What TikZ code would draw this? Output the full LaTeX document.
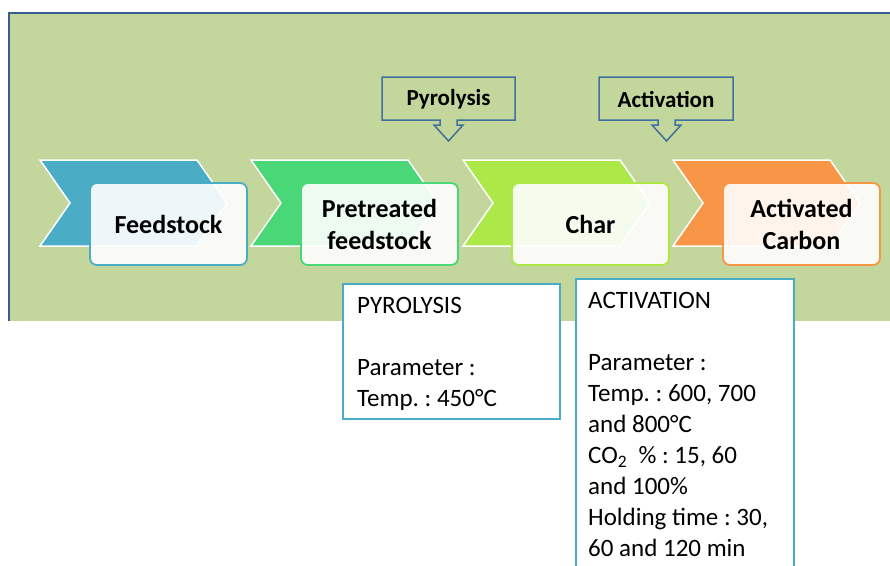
\documentclass[tikz,border=0pt]{standalone}
\usepackage{fontspec}
\setmainfont{Carlito}
\frenchspacing
\definecolor{bggreen}{RGB}{195,214,155}
\definecolor{frameblue}{RGB}{56,93,138}
\definecolor{cA}{RGB}{75,172,198}
\definecolor{cB}{RGB}{74,215,120}
\definecolor{cC}{RGB}{172,232,72}
\definecolor{cD}{RGB}{247,150,70}
\definecolor{callblue}{RGB}{65,113,156}
\definecolor{infoblue}{RGB}{75,172,198}
\begin{document}
\begin{tikzpicture}[x=1pt,y=-1pt,
  chev/.style={fill=#1, draw=white, line width=1.5pt, line join=miter},
  stagebox/.style={draw=#1, line width=1.8pt, fill=white, fill opacity=0.9, text opacity=1,
    rounded corners=7pt, minimum width=157pt, minimum height=82pt, inner sep=0pt,
    font=\bfseries\fontsize{26}{32}\selectfont, align=center},
  callout/.style={draw=callblue, line width=1.5pt, line join=miter},
  calltext/.style={font=\bfseries\fontsize{23}{28}\selectfont, inner sep=0pt},
  infobox/.style={draw=infoblue, line width=1.8pt, fill=white},
  infotext/.style={font=\fontsize{25}{31}\selectfont, align=left, inner sep=0pt, anchor=north west}
]
\useasboundingbox (0,0) rectangle (890,565);
\clip (0,0) rectangle (890,565);
% background
\fill[bggreen] (9,13) rectangle (895,321);
\draw[frameblue, line width=1.8pt] (9,321) -- (9,13) -- (895,13);
% chevrons
\foreach \xx/\cc in {40/cA,251/cB,463/cC,673/cD}{
  \path[chev=\cc] (\xx,160) -- ++(157,0) -- ++(30,43) -- ++(-30,43) -- ++(-157,0) -- ++(30,-43) -- cycle;
}
% stage boxes
\node[stagebox=cA] (feed) at (168.5,224) {Feedstock};
\node[stagebox=cB] (pre) at (379.5,224) {Pretreated\\feedstock};
\node[stagebox=cC] (char) at (590.5,224) {Char};
\node[stagebox=cD] (ac) at (801.5,224) {Activated\\Carbon};
% callouts
\draw[callout] (382,77) -- (515,77) -- (515,120) -- (457,120) -- (457,125) -- (463,125)
  -- (448.5,141) -- (434,125) -- (440,125) -- (440,120) -- (382,120) -- cycle;
\node[calltext] (pyr) at (448.5,99) {Pyrolysis};
\draw[callout] (599,77) -- (733,77) -- (733,120) -- (675,120) -- (675,125) -- (681,125)
  -- (666.5,141) -- (652,125) -- (658,125) -- (658,120) -- (599,120) -- cycle;
\node[calltext] (act) at (666,99) {Activation};
% info boxes
\draw[infobox] (343,284) rectangle (560,419);
\node[infotext] (pinfo) at (357,297) {PYROLYSIS\\[31pt]Parameter :\\Temp. : 450°C};
\draw[infobox] (576,279) rectangle (794,620);
\node[infotext] (ainfo) at (588,292) {ACTIVATION\\[31pt]Parameter :\\Temp. : 600, 700\\and 800°C\\CO\textsubscript{2}\ \ \% : 15, 60\\and 100\%\\Holding time : 30,\\60 and 120 min};
\end{tikzpicture}
\end{document}
